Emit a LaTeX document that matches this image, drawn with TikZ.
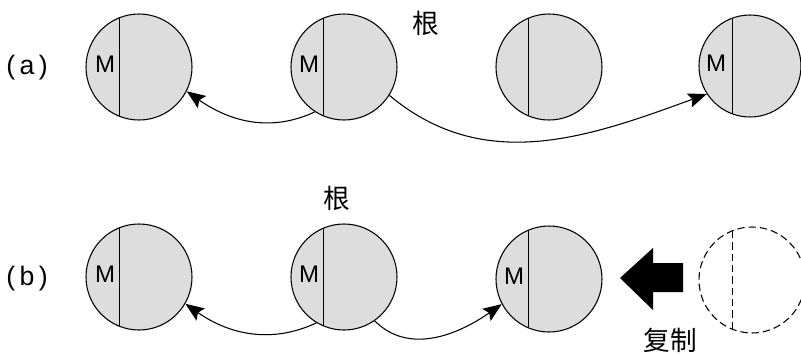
\documentclass[tikz,border=0pt]{standalone}
\usepackage{fontspec}
\setmainfont{Liberation Sans}
\newfontfamily\cjk{Noto Sans CJK SC}
\usetikzlibrary{arrows.meta,calc}
\definecolor{diskgray}{HTML}{DDDDDD}
\begin{document}
\begin{tikzpicture}[x=0.75pt,y=-0.75pt,
  disk/.style={circle,draw,line width=0.8pt,fill=diskgray,minimum size=79.5pt,inner sep=0pt},
  ghost/.style={circle,draw,line width=0.8pt,dash pattern=on 5.5pt off 3pt,minimum size=79.5pt,inner sep=0pt},
  chord/.style={line width=0.7pt},
  mlabel/.style={font=\fontsize{18}{18}\selectfont,inner sep=0pt},
  cjklabel/.style={font=\cjk\fontsize{20}{20}\selectfont,inner sep=0pt},
  rowlabel/.style={font=\fontsize{20}{20}\selectfont,inner sep=0pt},
  link/.style={line width=0.8pt,-{Stealth[length=14pt,width=11pt,inset=2.5pt]}}
]
\useasboundingbox (0,0) rectangle (801,354);

% row (a)
\node[rowlabel] (la) at (27,68) {(\,a\,)};
\node[disk] (a1) at (139,67) {};
\node[disk] (a2) at (344,67) {};
\node[disk] (a3) at (549,67) {};
\node[disk,minimum size=76.5pt] (a4) at (750,66) {};
\draw[chord] ($(a1)+(-20,-49)$) -- ($(a1)+(-20,49)$);
\draw[chord] ($(a2)+(-21,-49)$) -- ($(a2)+(-21,49)$);
\draw[chord] ($(a3)+(-21,-49)$) -- ($(a3)+(-21,49)$);
\draw[chord] ($(a4)+(-18,-47)$) -- ($(a4)+(-18,47)$);
\node[mlabel] (ma1) at ($(a1)+(-34,-3)$) {M};
\node[mlabel] (ma2) at ($(a2)+(-35,-3)$) {M};
\node[mlabel] (ma4) at ($(a4)+(-34,-3)$) {M};
\node[cjklabel] (ra) at (426,23) {根};
\draw[link] (a2.237) to[out=205,in=-35] (a1.-27);
\draw[link] (a2.-32) to[out=-40,in=200] (a4.213);

% row (b)
\node[rowlabel] (lb) at (27,279) {(\,b\,)};
\node[disk] (b1) at (139,277) {};
\node[disk] (b2) at (344,277) {};
\node[disk] (b3) at (549,279) {};
\node[ghost] (b4) at (752,280) {};
\draw[chord] ($(b1)+(-20,-49)$) -- ($(b1)+(-20,49)$);
\draw[chord] ($(b2)+(-21,-49)$) -- ($(b2)+(-21,49)$);
\draw[chord] ($(b3)+(-21,-49)$) -- ($(b3)+(-21,49)$);
\draw[chord,dash pattern=on 5.5pt off 3pt] ($(b4)+(-20,-49)$) -- ($(b4)+(-20,49)$);
\node[mlabel] (mb1) at ($(b1)+(-34,-3)$) {M};
\node[mlabel] (mb2) at ($(b2)+(-35,-3)$) {M};
\node[mlabel] (mb3) at ($(b3)+(-35,-3)$) {M};
\node[cjklabel] (rb) at (337,198) {根};
\draw[link] (b2.239) to[out=205,in=-35] (b1.-30);
\draw[link] (b2.-55) to[out=-45,in=215] (b3.208);

% copy arrow
\fill (620,278) -- (653,248) -- (653,263) -- (683,263) -- (683,292) -- (653,292) -- (653,310) -- cycle;
\node[cjklabel] (cp) at (670,340) {复制};
\end{tikzpicture}
\end{document}
